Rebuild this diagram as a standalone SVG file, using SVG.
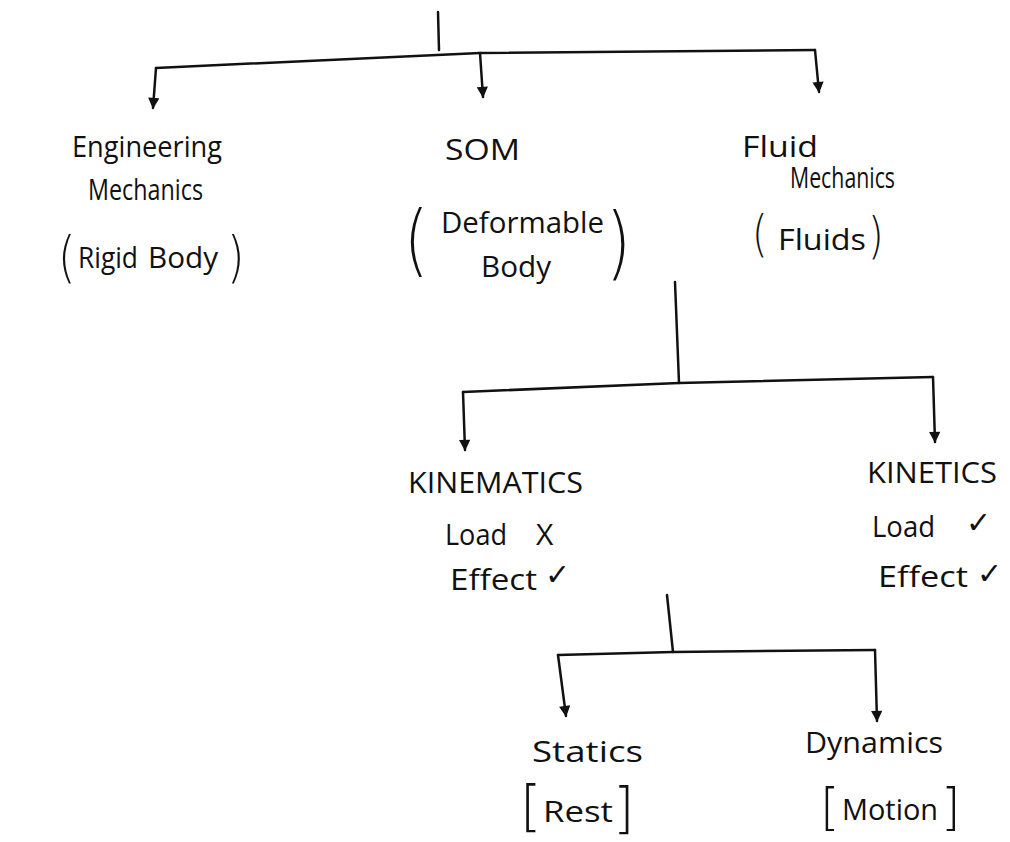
<svg xmlns="http://www.w3.org/2000/svg" width="1010" height="842" viewBox="0 0 1010 842">
<style>
.t{font-family:"Open Sans","Liberation Sans",sans-serif;fill:#111;font-size:30px}
.c{fill:none;stroke:#111;stroke-width:2.5;stroke-linecap:round;stroke-linejoin:round}
.b{font-family:"DejaVu Sans","Liberation Sans",sans-serif;fill:#111;font-weight:200}
</style>
<defs>
<marker id="ah" viewBox="0 0 10 10" refX="9" refY="5" markerWidth="5.5" markerHeight="4.5" orient="auto" markerUnits="strokeWidth">
<path d="M0,0 L10,5 L0,10 z" fill="#111"/>
</marker>
</defs>
<rect width="1010" height="842" fill="#fff"/>
<g id="connectors" class="c">
<path d="M438,12 L439,50"/>
<path d="M156,68 L480,53 L815,50"/>
<path d="M156,68 L153,108" marker-end="url(#ah)"/>
<path d="M480,53 L483,97" marker-end="url(#ah)"/>
<path d="M815,50 L819,92" marker-end="url(#ah)"/>
<path d="M675,282 L679,383"/>
<path d="M463,392 L679,383 L933,377"/>
<path d="M463,392 L465,450" marker-end="url(#ah)"/>
<path d="M933,377 L935,442" marker-end="url(#ah)"/>
<path d="M667,595 L673,652"/>
<path d="M558,655 L673,652 L875,650"/>
<path d="M558,655 L566,716" marker-end="url(#ah)"/>
<path d="M875,650 L877,721" marker-end="url(#ah)"/>
</g>
<g id="engineering-mechanics">
<text class="t" x="72" y="157" textLength="150" lengthAdjust="spacingAndGlyphs">Engineering</text>
<text class="t" x="88" y="200" font-size="28" textLength="115" lengthAdjust="spacingAndGlyphs">Mechanics</text>
<text class="b" x="0" y="0" font-size="56" transform="translate(58,276) scale(0.8,1)">(</text>
<text class="t" x="78" y="268" font-size="34" textLength="60" lengthAdjust="spacingAndGlyphs">Rigid</text>
<text class="t" x="148" y="268" font-size="34" textLength="70" lengthAdjust="spacingAndGlyphs">Body</text>
<text class="b" x="0" y="0" font-size="56" transform="translate(227,276) scale(0.8,1)">)</text>
</g>
<g id="som">
<text class="t" x="445" y="160" font-size="34" textLength="75" lengthAdjust="spacingAndGlyphs">SOM</text>
<text class="b" x="0" y="0" font-size="78" transform="translate(404,267) scale(0.8,1)">(</text>
<text class="t" x="441" y="233" textLength="163" lengthAdjust="spacingAndGlyphs">Deformable</text>
<text class="t" x="481" y="277" font-size="28" textLength="70" lengthAdjust="spacingAndGlyphs">Body</text>
<text class="b" x="0" y="0" font-size="80" transform="translate(606,270) scale(0.8,1)">)</text>
</g>
<g id="fluid-mechanics">
<text class="t" x="742" y="157" font-size="34" textLength="76" lengthAdjust="spacingAndGlyphs">Fluid</text>
<text class="t" x="790" y="188" font-size="28" textLength="105" lengthAdjust="spacingAndGlyphs">Mechanics</text>
<text class="b" x="0" y="0" font-size="50" transform="translate(752,251) scale(0.8,1)">(</text>
<text class="t" x="778" y="250" font-size="32" textLength="88" lengthAdjust="spacingAndGlyphs">Fluids</text>
<text class="b" x="0" y="0" font-size="50" transform="translate(868,253) scale(0.8,1)">)</text>
</g>
<g id="kinematics">
<text class="t" x="408" y="493" font-size="29" textLength="175" lengthAdjust="spacingAndGlyphs">KINEMATICS</text>
<text class="t" x="445" y="545" font-size="32" textLength="62" lengthAdjust="spacingAndGlyphs">Load</text>
<text class="t" x="536" y="545" font-size="28">X</text>
<text class="t" x="450" y="590" font-size="32" textLength="87" lengthAdjust="spacingAndGlyphs">Effect</text>
<text class="t" x="545" y="585" font-size="26">✓</text>
</g>
<g id="kinetics">
<text class="t" x="867" y="483" font-size="28" textLength="130" lengthAdjust="spacingAndGlyphs">KINETICS</text>
<text class="t" x="872" y="537" font-size="30" textLength="63" lengthAdjust="spacingAndGlyphs">Load</text>
<text class="t" x="966" y="533" font-size="24">✓</text>
<text class="t" x="878" y="587" font-size="32" textLength="90" lengthAdjust="spacingAndGlyphs">Effect</text>
<text class="t" x="977" y="584" font-size="28">✓</text>
</g>
<g id="statics">
<text class="t" x="532" y="762" font-size="40" textLength="111" lengthAdjust="spacingAndGlyphs">Statics</text>
<text class="b" x="520" y="825" font-size="55">[</text>
<text class="t" x="543" y="822" font-size="36" textLength="70" lengthAdjust="spacingAndGlyphs">Rest</text>
<text class="b" x="613" y="827" font-size="55">]</text>
</g>
<g id="dynamics">
<text class="t" x="805" y="753" font-size="33" textLength="138" lengthAdjust="spacingAndGlyphs">Dynamics</text>
<text class="b" x="820" y="824" font-size="50">[</text>
<text class="t" x="842" y="820" font-size="30" textLength="96" lengthAdjust="spacingAndGlyphs">Motion</text>
<text class="b" x="941" y="824" font-size="50">]</text>
</g>
</svg>
